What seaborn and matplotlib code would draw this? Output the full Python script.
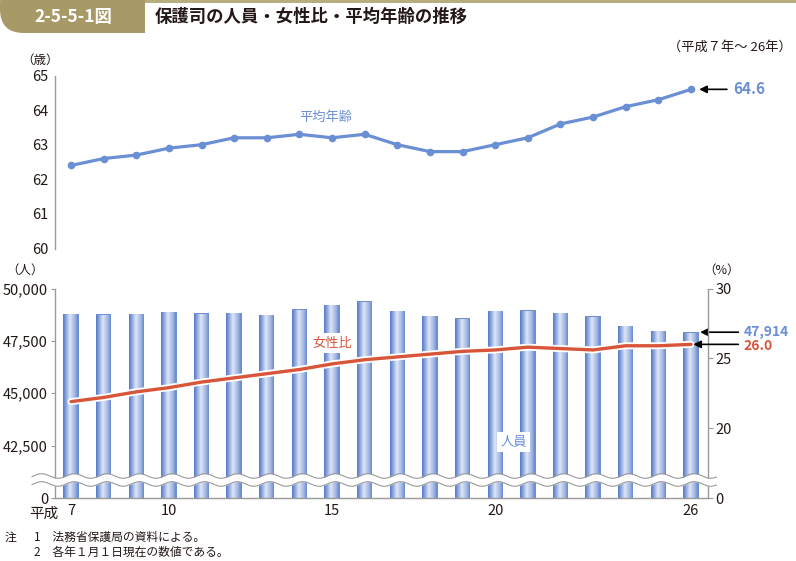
import numpy as np
import pandas as pd
import matplotlib
matplotlib.use("Agg")
import matplotlib.pyplot as plt
import matplotlib.patheffects as pe
from matplotlib.colors import LinearSegmentedColormap
from matplotlib.patches import FancyBboxPatch, Rectangle
from matplotlib.transforms import blended_transform_factory
import seaborn as sns

# ---------------- data ----------------
years = list(range(7, 27))  # 平成7年〜26年
avg_age = [62.4, 62.6, 62.7, 62.9, 63.0, 63.2, 63.2, 63.3, 63.2, 63.3,
           63.0, 62.8, 62.8, 63.0, 63.2, 63.6, 63.8, 64.1, 64.3, 64.6]
persons = [48800, 48770, 48800, 48900, 48820, 48850, 48750, 49010, 49220, 49390,
           48930, 48690, 48580, 48930, 48950, 48850, 48670, 48220, 47980, 47914]
female_ratio = [21.9, 22.2, 22.6, 22.9, 23.3, 23.6, 23.9, 24.2, 24.6, 24.9,
                25.1, 25.3, 25.5, 25.6, 25.8, 25.7, 25.6, 25.9, 25.9, 26.0]
xtick_years = [7, 10, 15, 20, 26]
left_ticks = [0, 42500, 45000, 47500, 50000]
right_ticks = [0, 20, 25, 30]
age_ticks = [60, 61, 62, 63, 64, 65]

df = pd.DataFrame({"year": years, "pos": np.arange(len(years)),
                   "age": avg_age, "persons": persons, "ratio": female_ratio})

# ---------------- style ----------------
sns.set_style("white")
plt.rcParams["font.family"] = ["Noto Sans CJK JP", "DejaVu Sans"]
TXT = "#231815"
SPINE = "#9a9a9a"
BLUE = "#6a8fd5"
RED = "#d8553a"

fig = plt.figure(figsize=(7.96, 5.61), dpi=100)
W, H = 796, 561

def fx(px):
    return px / W

def fy(py):
    return 1 - py / H

# ---------------- header ----------------
fig.add_artist(FancyBboxPatch((0, fy(33)), fx(145), fy(-20) - fy(33),
                              boxstyle="round,pad=0,rounding_size=0.03",
                              transform=fig.transFigure, fc="#a89a66", ec="none",
                              mutation_aspect=W / H))
fig.add_artist(Rectangle((fx(70), fy(33)), fx(75), fy(-5) - fy(33),
                         transform=fig.transFigure, fc="#a89a66", ec="none"))
fig.add_artist(Rectangle((fx(145), fy(2.5)), 1, fy(0) - fy(2.5),
                         transform=fig.transFigure, fc="#b8ad7c", ec="none"))
fig.text(fx(73), fy(17), "2-5-5-1図", color="white", fontsize=12.5,
         fontweight="bold", ha="center", va="center")
fig.text(fx(155), fy(17), "保護司の人員・女性比・平均年齢の推移", color=TXT,
         fontsize=12.5, fontweight="bold", ha="left", va="center")
fig.text(fx(792), fy(47), "（平成７年～ 26年）", color=TXT, fontsize=9.5,
         ha="right", va="center")

# ---------------- top chart: 平均年齢 ----------------
XL = (-0.49, 19.52)
ax_top = fig.add_axes([fx(55), fy(248.5), fx(653), (248.5 - 75.5) / H])
sns.lineplot(data=df, x="pos", y="age", ax=ax_top, color=BLUE, linewidth=2.3,
             marker="o", markersize=5.5, markeredgewidth=0)
ax_top.set_xlim(*XL)
ax_top.set_ylim(60, 65)
ax_top.set_yticks(age_ticks)
ax_top.set_yticklabels([str(t) for t in age_ticks], fontsize=10.5, color=TXT)
ax_top.set_xticks([])
ax_top.set_xlabel("")
ax_top.set_ylabel("")
for s in ["top", "right", "bottom"]:
    ax_top.spines[s].set_visible(False)
ax_top.spines["left"].set_color(SPINE)
ax_top.spines["left"].set_linewidth(1.0)
ax_top.tick_params(axis="y", direction="out", length=3, width=0.8,
                   color=SPINE, pad=2)
ax_top.patch.set_alpha(0)
fig.text(fx(40), fy(60), "（歳）", fontsize=9, color=TXT, ha="center", va="center")
ax_top.text(7.8, 63.8, "平均年齢", color=BLUE, fontsize=9.5, ha="center", va="center")
ax_top.annotate("", xy=(19.25, 64.6), xytext=(20.1, 64.6),
                arrowprops=dict(arrowstyle="-|>", color="black", lw=1.2,
                                mutation_scale=11, shrinkA=0, shrinkB=0),
                annotation_clip=False)
ax_top.text(20.3, 64.6, "64.6", color=BLUE, fontsize=11, fontweight="bold",
            ha="left", va="center", clip_on=False)

# ---------------- bottom chart: 人員 (bars) + 女性比 (line) ----------------
ax = fig.add_axes([fx(55), fy(498), fx(653), (498 - 288.5) / H])


def fwd_left(v):
    v = np.asarray(v, dtype=float)
    return np.where(v >= 41000, v, 40000 + v / 41.0)


def inv_left(u):
    u = np.asarray(u, dtype=float)
    return np.where(u >= 41000, u, (u - 40000) * 41.0)


def fwd_right(v):
    v = np.asarray(v, dtype=float)
    return np.where(v >= 16, v, 15 + v / 16.0)


def inv_right(u):
    u = np.asarray(u, dtype=float)
    return np.where(u >= 16, u, (u - 15) * 16.0)


sns.barplot(data=df, x="year", y="persons", ax=ax, color="#6f8fd3",
            width=0.47, saturation=1, linewidth=0)
ax.set_yscale("function", functions=(fwd_left, inv_left))

cmap = LinearSegmentedColormap.from_list(
    "cyl", [(0.0, "#5e80cc"), (0.12, "#7f9cd9"), (0.42, "#dfe6f7"),
            (0.75, "#9fb5e3"), (1.0, "#5a7cc9")])
grad = np.linspace(0, 1, 64).reshape(1, -1)
for p in list(ax.patches):
    x0 = p.get_x()
    w = p.get_width()
    h = p.get_height()
    im = ax.imshow(grad, extent=[x0, x0 + w, 0, h], aspect="auto", cmap=cmap,
                   interpolation="bilinear", zorder=p.get_zorder() + 0.1)
    im.set_clip_path(p)

ax.set_xlim(*XL)
ax.set_ylim(0, 50000)
ax.set_yticks(left_ticks)
ax.set_yticklabels([f"{t:,}" for t in left_ticks], fontsize=10.5, color=TXT)
ax.set_xticks([years.index(y) for y in xtick_years])
ax.set_xticklabels([str(y) for y in xtick_years], fontsize=10.5, color=TXT)
ax.set_xlabel("")
ax.set_ylabel("")
ax.tick_params(axis="x", length=0, pad=4)
ax.tick_params(axis="y", direction="out", length=3, width=0.8, color=SPINE, pad=2)
for s in ["top", "right"]:
    ax.spines[s].set_visible(False)
for s in ["left", "bottom"]:
    ax.spines[s].set_color(SPINE)
    ax.spines[s].set_linewidth(1.0)

ax2 = ax.twinx()
sns.lineplot(data=df, x="pos", y="ratio", ax=ax2, color=RED, linewidth=2.4)
ax2.lines[0].set_path_effects([pe.Stroke(linewidth=5, foreground="white"),
                               pe.Normal()])
ax2.set_yscale("function", functions=(fwd_right, inv_right))
ax2.set_ylim(0, 30)
ax2.set_xlim(*XL)
ax2.set_yticks(right_ticks)
ax2.set_yticklabels([str(t) for t in right_ticks], fontsize=10.5, color=TXT)
ax2.set_ylabel("")
ax2.set_xlabel("")
ax2.tick_params(axis="y", direction="out", length=3.5, width=0.8, color=SPINE, pad=2)
for s in ["top", "left", "bottom"]:
    ax2.spines[s].set_visible(False)
ax2.spines["right"].set_color(SPINE)
ax2.spines["right"].set_linewidth(1.0)

# axis break (wavy band)
tr = blended_transform_factory(ax2.transData, ax2.transAxes)
xw = np.linspace(-1.2, 19.78, 600)
yc = 0.086 + 0.011 * np.sin(2 * np.pi * (xw + 0.15))
hw = 0.019
ax2.fill_between(xw, yc - hw, yc + hw, transform=tr, color="white",
                 lw=0, zorder=8, clip_on=False)
ax2.plot(xw, yc - hw, transform=tr, color="#9a9a9a", lw=0.8, zorder=9, clip_on=False)
ax2.plot(xw, yc + hw, transform=tr, color="#9a9a9a", lw=0.8, zorder=9, clip_on=False)

# labels in the plot
ax2.text(8.0, 26.07, "女性比", color=RED, fontsize=9.5, ha="center", va="center",
         bbox=dict(fc="white", ec="none", pad=2.5), zorder=10)
ax2.text(13.56, 19.0, "人員", color=BLUE, fontsize=9.5, ha="center", va="center",
         bbox=dict(fc="white", ec="none", pad=2.5), zorder=10)

# axis unit labels
fig.text(fx(25), fy(270), "（人）", fontsize=9, color=TXT, ha="center", va="center")
fig.text(fx(722), fy(270), "（%）", fontsize=9, color=TXT, ha="center", va="center")
ax.text(-0.38, -0.04, "平成", transform=blended_transform_factory(ax.transData, ax.transAxes),
        fontsize=10.5, color=TXT, ha="right", va="top")

# end-value annotations
ax.annotate("", xy=(19.28, persons[-1]), xytext=(20.45, persons[-1]),
            arrowprops=dict(arrowstyle="-|>", color="black", lw=1.2,
                            mutation_scale=11, shrinkA=0, shrinkB=0),
            annotation_clip=False)
ax.annotate(f"{persons[-1]:,}", xy=(20.62, persons[-1]), xytext=(0, -3.5),
            textcoords="offset pixels", color=BLUE, fontsize=10,
            fontweight="bold", ha="left", va="baseline", annotation_clip=False)
ax2.annotate("", xy=(19.07, female_ratio[-1]), xytext=(20.45, female_ratio[-1]),
             arrowprops=dict(arrowstyle="-|>", color="black", lw=1.2,
                             mutation_scale=11, shrinkA=0, shrinkB=0),
             annotation_clip=False)
ax2.annotate(f"{female_ratio[-1]:.1f}", xy=(20.62, female_ratio[-1]), xytext=(0, -5.5),
             textcoords="offset pixels", color=RED, fontsize=10,
             fontweight="bold", ha="left", va="baseline", annotation_clip=False)

# ---------------- notes ----------------
fig.text(fx(5), fy(537), "注", fontsize=8.5, color=TXT, ha="left", va="center")
fig.text(fx(34), fy(537), "1　法務省保護局の資料による。", fontsize=8.5, color=TXT,
         ha="left", va="center")
fig.text(fx(34), fy(552), "2　各年１月１日現在の数値である。", fontsize=8.5, color=TXT,
         ha="left", va="center")

fig.savefig("out.png", dpi=100)
